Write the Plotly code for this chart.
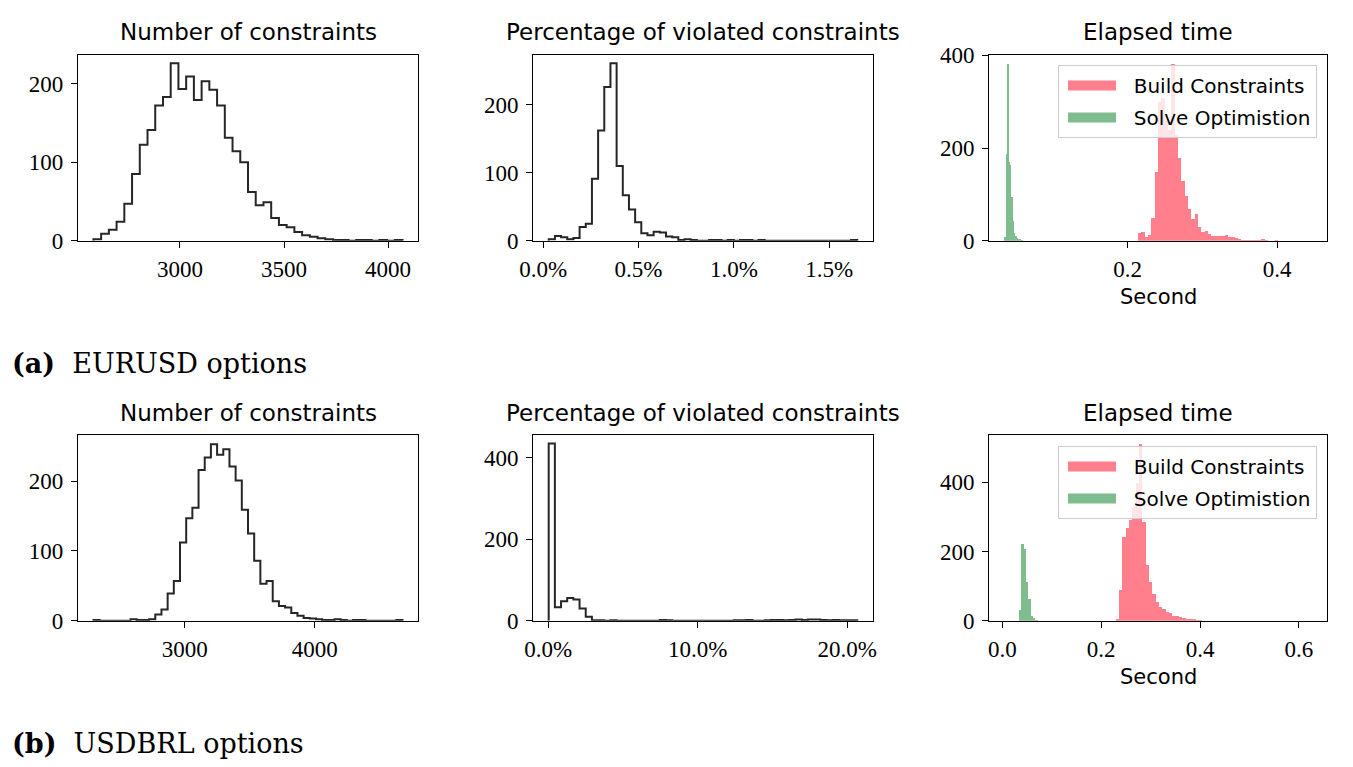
import numpy as np
import plotly.graph_objects as go

# ---------------- data ----------------
# (a) EURUSD options
nc_eur_lo, nc_eur_hi = 2584, 4070
nc_eur_counts = [2, 9, 14, 24, 47, 85, 122, 141, 172, 183,
                 226, 193, 209, 179, 203, 192, 172, 131, 114, 100,
                 62, 45, 49, 29, 20, 17, 11, 7, 5, 3,
                 2, 1, 1, 0, 1, 1, 0, 1, 0, 1]

pv_eur_lo, pv_eur_hi = 0.029, 1.647   # percent
pv_eur_counts = [2, 7, 5, 2, 4, 20, 25, 91, 162, 226,
                 261, 110, 67, 46, 27, 11, 8, 13, 12, 6,
                 5, 1, 2, 1, 0, 0, 1, 1, 0, 1,
                 0, 1, 1, 0, 1, 0, 0, 0, 0, 0,
                 0, 0, 0, 0, 0, 0, 0, 0, 0, 1]

build_eur_start, build_eur_width = 0.2142, 0.00446
build_eur_counts = [18, 20, 10, 14, 50, 150, 300, 310, 260, 240,
                    383, 230, 180, 130, 97, 70, 47, 58, 30, 20,
                    22, 16, 12, 11, 12, 11, 13, 10, 8, 6,
                    4, 3, 3, 2, 3, 2, 3, 4, 2, 1,
                    1, 2, 1, 1, 0, 1, 1, 1, 0, 1,
                    1, 0, 1]
solve_eur_start, solve_eur_width = 0.0357, 0.0018
solve_eur_counts = [8, 189, 383, 170, 165, 95, 43, 17, 12, 6,
                    5, 4, 3, 2, 1, 1, 0, 1, 1, 0, 1]

# (b) USDBRL options
nc_brl_lo, nc_brl_hi = 2298, 4676
nc_brl_counts = [1, 0, 0, 0, 0, 0, 2, 1, 1, 2,
                 9, 16, 39, 57, 112, 147, 162, 216, 234, 253,
                 238, 246, 221, 201, 159, 125, 86, 53, 57, 28,
                 21, 19, 11, 7, 4, 3, 2, 1, 1, 2,
                 1, 0, 1, 1, 0, 0, 0, 0, 0, 1]

pv_brl_lo, pv_brl_hi = 0.03, 20.68   # percent
pv_brl_counts = [435, 33, 48, 56, 52, 30, 10, 1, 1, 0,
                 1, 0, 0, 0, 0, 0, 0, 0, 2, 1,
                 0, 0, 0, 0, 0, 0, 0, 0, 0, 0,
                 1, 1, 2, 0, 0, 1, 2, 2, 1, 2,
                 3, 2, 3, 3, 2, 1, 2, 1, 1, 1]

build_brl_start, build_brl_width = 0.2299, 0.00674
build_brl_counts = [7, 89, 243, 270, 292, 330, 400, 512, 287, 161,
                    113, 79, 55, 41, 34, 28, 23, 16, 14, 11,
                    9, 7, 6, 5, 4, 3, 2, 2, 1, 1,
                    2, 1, 1]
solve_brl_start, solve_brl_width = 0.0344, 0.00472
solve_brl_counts = [31, 222, 210, 113, 63, 14, 10, 4, 2, 1,
                    1, 1, 0, 1, 1, 0, 1, 1, 1, 0,
                    1, 1, 0, 1, 1, 2, 1, 1, 0, 1]

# tick labels
nc_eur_ticks = [3000, 3500, 4000]
nc_brl_ticks = [3000, 4000]
pv_eur_ticks = [0.0, 0.5, 1.0, 1.5]
pv_eur_ticktext = ["0.0%", "0.5%", "1.0%", "1.5%"]
pv_brl_ticks = [0, 10, 20]
pv_brl_ticktext = ["0.0%", "10.0%", "20.0%"]
t_eur_ticks = [0.2, 0.4]
t_eur_ticktext = ["0.2", "0.4"]
t_brl_ticks = [0.0, 0.2, 0.4, 0.6]
t_brl_ticktext = ["0.0", "0.2", "0.4", "0.6"]

titles = ["Number of constraints", "Percentage of violated constraints", "Elapsed time"]
captions = ["<b>(a)</b>&nbsp; EURUSD options", "<b>(b)</b>&nbsp; USDBRL options"]
series_names = ["Build Constraints", "Solve Optimistion"]

# ---------------- figure ----------------
W, H = 1353, 767
SANS = "DejaVu Sans"
SERIF = "Liberation Serif"
LINE = "#262626"
RED = "rgba(255,0,25,0.5)"
GREEN = "rgba(0,122,30,0.5)"

fig = go.Figure()


def step(lo, hi, counts, ax):
    e = np.linspace(lo, hi, len(counts) + 1)
    xs = [e[0]] + list(e[:-1]) + [e[-1]]
    ys = [0] + list(counts) + [0]
    fig.add_trace(go.Scatter(x=xs, y=ys, mode="lines",
                             line=dict(shape="hv", color=LINE, width=2),
                             xaxis="x" + ax, yaxis="y" + ax,
                             showlegend=False, hoverinfo="skip"))


def bars(start, width, counts, ax, color, name, legend):
    n = len(counts)
    centers = start + width * (np.arange(n) + 0.5)
    fig.add_trace(go.Bar(x=centers, y=counts, width=width, name=name,
                         marker=dict(color=color, line=dict(width=0)),
                         xaxis="x" + ax, yaxis="y" + ax,
                         showlegend=False, legendgroup=name + legend))
    # legend key drawn as a wide patch (like matplotlib's legend handle)
    fig.add_trace(go.Scatter(x=[None], y=[None], mode="lines",
                             name="&nbsp;&nbsp;" + name,
                             line=dict(color=color, width=17),
                             xaxis="x" + ax, yaxis="y" + ax,
                             legend=legend, legendgroup=name + legend))


step(nc_eur_lo, nc_eur_hi, nc_eur_counts, "")
step(pv_eur_lo, pv_eur_hi, pv_eur_counts, "2")
bars(build_eur_start, build_eur_width, build_eur_counts, "3", RED, series_names[0], "legend")
bars(solve_eur_start, solve_eur_width, solve_eur_counts, "3", GREEN, series_names[1], "legend")
step(nc_brl_lo, nc_brl_hi, nc_brl_counts, "4")
step(pv_brl_lo, pv_brl_hi, pv_brl_counts, "5")
bars(build_brl_start, build_brl_width, build_brl_counts, "6", RED, series_names[0], "legend2")
bars(solve_brl_start, solve_brl_width, solve_brl_counts, "6", GREEN, series_names[1], "legend2")

colx = [(78.0, 418.0), (533.3, 872.7), (989.3, 1327.3)]
rowy = [(54.5, 240.7), (434.5, 620.7)]


def px2x(p):
    return p / W


def px2y(p):
    return 1 - p / H


axis_common = dict(showline=True, linecolor="black", linewidth=1.3, mirror=True,
                   ticks="outside", ticklen=6, tickwidth=1.3, tickcolor="black",
                   showgrid=False, zeroline=False, automargin=False,
                   tickfont=dict(family=SERIF, size=23, color="black"))

specs = [
    # (axis suffix, col, row, xrange, xticks, xticktext, yrange, yticks)
    ("", 0, 0, [2510, 4144], nc_eur_ticks, None, [0, 237], [0, 100, 200]),
    ("2", 1, 0, [-0.052, 1.728], pv_eur_ticks, pv_eur_ticktext, [0, 274], [0, 100, 200]),
    ("3", 2, 0, [0.015, 0.467], t_eur_ticks, t_eur_ticktext, [0, 402], [0, 200, 400]),
    ("4", 0, 1, [2179, 4795], nc_brl_ticks, None, [0, 267], [0, 100, 200]),
    ("5", 1, 1, [-1.0, 21.71], pv_brl_ticks, pv_brl_ticktext, [0, 457], [0, 200, 400]),
    ("6", 2, 1, [-0.0263, 0.6573], t_brl_ticks, t_brl_ticktext, [0, 538], [0, 200, 400]),
]

layout = {}
for suf, c, r, xr, xt, xtt, yr, yt in specs:
    xa = dict(axis_common, domain=[px2x(colx[c][0]), px2x(colx[c][1])], range=xr,
              tickvals=xt, anchor="y" + suf, ticklabelstandoff=2)
    if xtt is not None:
        xa["ticktext"] = xtt
    ya = dict(axis_common, domain=[px2y(rowy[r][1]), px2y(rowy[r][0])], range=yr,
              tickvals=yt, anchor="x" + suf, ticklabelstandoff=3)
    layout["xaxis" + suf] = xa
    layout["yaxis" + suf] = ya

annotations = []
for r, ypx in enumerate([32, 413]):
    for c in range(3):
        annotations.append(dict(text=titles[c], x=px2x((colx[c][0] + colx[c][1]) / 2), y=px2y(ypx),
                                xref="paper", yref="paper", xanchor="center", yanchor="middle",
                                showarrow=False, font=dict(family=SANS, size=23, color="black")))
# x-axis label of the elapsed-time panels
for ypx in [297, 677]:
    annotations.append(dict(text="Second", x=px2x((colx[2][0] + colx[2][1]) / 2), y=px2y(ypx),
                            xref="paper", yref="paper", xanchor="center", yanchor="middle",
                            showarrow=False, font=dict(family=SANS, size=21, color="black")))
for cap, ypx in zip(captions, [363, 743]):
    annotations.append(dict(text=cap, x=px2x(10), y=px2y(ypx), xref="paper", yref="paper",
                            xanchor="left", yanchor="middle", showarrow=False,
                            font=dict(family="DejaVu Serif", size=27, color="black")))

leg_common = dict(xanchor="left", yanchor="top", bgcolor="rgba(255,255,255,0.8)",
                  bordercolor="#cccccc", borderwidth=1, itemwidth=48, indentation=4,
                  tracegroupgap=3,
                  font=dict(family=SANS, size=20, color="black"))

fig.update_layout(
    width=W, height=H, margin=dict(l=0, r=0, t=0, b=0, autoexpand=False),
    paper_bgcolor="white", plot_bgcolor="white",
    barmode="overlay", bargap=0,
    annotations=annotations,
    legend=dict(leg_common, x=px2x(1058), y=px2y(65)),
    legend2=dict(leg_common, x=px2x(1058), y=px2y(446)),
    **layout,
)

fig.write_html("out.html")
